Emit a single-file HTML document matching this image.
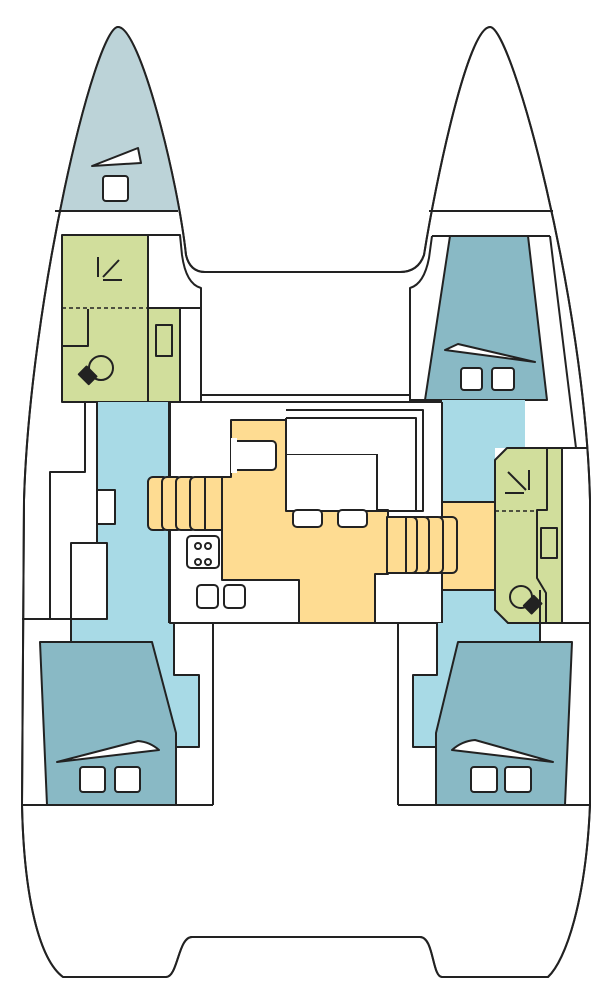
<!DOCTYPE html>
<html><head><meta charset="utf-8"><style>html,body{margin:0;padding:0;background:#fff}svg{display:block}</style></head>
<body>
<svg width="614" height="1004" viewBox="0 0 614 1004" xmlns="http://www.w3.org/2000/svg">
<defs>
<path id="hull" d="M118 27 C95 27 30 300 24 500 L22 805 C24 900 40 960 63 977 L166 977 C178 977 178 937 192 937 L420 937 C434 937 432 977 442 977 L548 977 C566 960 586 900 590 805 L590 500 C585 300 512 27 490 27 C468 27 436 180 424 255 Q418 272 400 272 L205 272 Q190 272 186 255 C178 180 140 27 118 27 Z"/>
<clipPath id="hc"><use href="#hull"/></clipPath>
</defs>
<g stroke="#222" stroke-width="2" stroke-linejoin="round" fill="none">
<use href="#hull" fill="#fff"/>
<rect x="0" y="0" width="300" height="211" fill="#bcd3d8" stroke="none" clip-path="url(#hc)"/>
<use href="#hull" fill="none"/>
<line x1="55" y1="211" x2="178" y2="211"/>
<line x1="429" y1="211" x2="553" y2="211"/>
<path d="M92 166 L138 148 L141 163 Z" fill="#fff"/>
<rect x="103" y="176" width="25" height="25" rx="3" fill="#fff"/>

<!-- left forward cabin -->
<rect x="62" y="235" width="86" height="167" fill="#d1de9c"/>
<rect x="148" y="308" width="32" height="94" fill="#d1de9c"/>
<path d="M62 235 L180 235 L182 255 Q186 284 201 288 L201 402"/>
<line x1="148" y1="235" x2="148" y2="402"/>
<line x1="148" y1="308" x2="201" y2="308"/>
<line x1="180" y1="308" x2="180" y2="402"/>
<line x1="62" y1="308" x2="148" y2="308" stroke-dasharray="4,3" stroke-width="1.5"/>
<rect x="156" y="325" width="16" height="31" fill="none"/>
<path d="M62 346 L88 346 L88 309"/>
<circle cx="101" cy="368" r="12" fill="none"/>
<rect x="82" y="368" width="11" height="14" fill="#222" transform="rotate(-45 88 375)"/>
<line x1="98" y1="257" x2="98" y2="277"/>
<line x1="103" y1="277" x2="119" y2="260"/>
<line x1="103" y1="280" x2="122" y2="280"/>
<line x1="62" y1="402" x2="201" y2="402"/>

<!-- right forward cabin -->
<path d="M432 236 L550 236"/>
<path d="M550 236 L576 448"/>
<path d="M432 236 L429 258 Q424 284 410 288 L410 402"/>
<path d="M450 236 L528 236 L547 400 L425 400 Z" fill="#89b9c5"/>
<line x1="410" y1="400" x2="547" y2="400"/>
<path d="M445 350 L458 344 L535 362 Z" fill="#fff"/>
<rect x="461" y="368" width="21" height="22" rx="3" fill="#fff"/>
<rect x="492" y="368" width="22" height="22" rx="3" fill="#fff"/>

<line x1="201" y1="395" x2="410" y2="395"/>

<!-- left hull corridor -->
<path d="M97 402 L169 402 L169 623 L174 623 L174 675 L199 675 L199 747 L176 747 L176 733 L152 642 L71 642 L71 619 L97 619 Z" fill="#a8dae6" stroke="none"/>
<line x1="97" y1="402" x2="97" y2="543"/>
<line x1="169" y1="402" x2="169" y2="623"/>
<rect x="97" y="490" width="18" height="34" fill="#fff"/>
<rect x="71" y="543" width="36" height="76" fill="#fff"/>
<path d="M85 402 L85 472 L50 472 L50 619"/>
<line x1="22" y1="619" x2="71" y2="619"/>
<line x1="71" y1="619" x2="71" y2="642"/>
<path d="M174 623 L174 675 L199 675 L199 747 L176 747"/>
<line x1="213" y1="623" x2="213" y2="805"/>
<path d="M40 642 L152 642 L176 733 L176 805 L47 805 Z" fill="#89b9c5"/>
<line x1="22" y1="805" x2="213" y2="805"/>
<path d="M57 762 L138 741 Q150 742 159 750 Z" fill="#fff"/>
<rect x="80" y="767" width="25" height="25" rx="3" fill="#fff"/>
<rect x="115" y="767" width="25" height="25" rx="3" fill="#fff"/>

<!-- saloon -->
<rect x="170" y="402" width="272" height="221" fill="#fff"/>
<path d="M231 420 L287 420 L287 510 L388 510 L388 574 L375 574 L375 623 L299 623 L299 580 L222 580 L222 477 L231 477 Z" fill="#fedc92"/>
<rect x="231" y="441" width="45" height="29" rx="4" fill="#fff"/>
<rect x="231" y="438" width="6" height="35" fill="#fff" stroke="none"/>
<path d="M286 410 L423 410 L423 511 L377 511"/>
<rect x="286" y="454" width="91" height="57" fill="#fff"/>
<rect x="286" y="418" width="130" height="36" fill="#fff" stroke="none"/>
<path d="M286 418 L416 418 L416 511 L377 511"/>
<line x1="286" y1="418" x2="286" y2="454"/>
<rect x="293" y="510" width="29" height="17" rx="4" fill="#fff"/>
<rect x="338" y="510" width="29" height="17" rx="4" fill="#fff"/>
<g fill="#fedc92">
<rect x="148" y="477" width="20" height="53" rx="5"/>
<rect x="162" y="477" width="20" height="53" rx="5"/>
<rect x="176" y="477" width="20" height="53" rx="5"/>
<rect x="190" y="477" width="20" height="53" rx="5"/>
<rect x="205" y="477" width="17" height="53"/>
</g>
<rect x="187" y="536" width="32" height="32" rx="4" fill="#fff"/>
<circle cx="198" cy="546" r="3"/><circle cx="208" cy="546" r="3"/>
<circle cx="198" cy="562" r="3"/><circle cx="208" cy="562" r="3"/>
<rect x="197" y="585" width="21" height="23" rx="4" fill="#fff"/>
<rect x="224" y="585" width="21" height="23" rx="4" fill="#fff"/>
<line x1="170" y1="623" x2="442" y2="623"/>

<!-- right hull -->
<rect x="442" y="400" width="83" height="48" fill="#a8dae6" stroke="none"/>
<rect x="442" y="448" width="53" height="54" fill="#a8dae6" stroke="none"/>
<path d="M442 590 L540 590 L540 642 L458 642 L436 733 L436 747 L413 747 L413 675 L437 675 L437 623 L442 623 Z" fill="#a8dae6" stroke="none"/>
<rect x="442" y="502" width="54" height="88" fill="#fedc92" stroke="none"/>
<line x1="442" y1="402" x2="442" y2="623"/>
<line x1="442" y1="502" x2="495" y2="502"/>
<line x1="442" y1="590" x2="495" y2="590"/>
<g fill="#fedc92">
<rect x="436" y="517" width="21" height="56" rx="5"/>
<rect x="422" y="517" width="21" height="56" rx="5"/>
<rect x="408" y="517" width="21" height="56" rx="5"/>
<rect x="396" y="517" width="21" height="56" rx="5"/>
<rect x="387" y="517" width="19" height="56"/>
</g>
<path d="M495 460 L507 448 L562 448 L562 623 L508 623 L495 610 Z" fill="#d1de9c"/>
<path d="M547 448 L547 510 L537 510 L537 578 L546 593 L546 623"/>
<line x1="495" y1="511" x2="537" y2="511" stroke-dasharray="4,3" stroke-width="1.5"/>
<rect x="541" y="528" width="16" height="30"/>
<circle cx="521" cy="597" r="11"/>
<rect x="527" y="598" width="11" height="14" fill="#222" transform="rotate(45 533 605)"/>
<line x1="529" y1="470" x2="529" y2="490"/>
<line x1="508" y1="472" x2="526" y2="490"/>
<line x1="505" y1="493" x2="524" y2="493"/>
<line x1="562" y1="448" x2="588" y2="448"/>
<line x1="540" y1="623" x2="590" y2="623"/>
<line x1="540" y1="590" x2="540" y2="642"/>
<line x1="398" y1="623" x2="437" y2="623"/>
<line x1="398" y1="623" x2="398" y2="805"/>
<path d="M437 623 L437 675 L413 675 L413 747 L436 747"/>
<path d="M458 642 L572 642 L565 805 L436 805 L436 733 Z" fill="#89b9c5"/>
<line x1="398" y1="805" x2="590" y2="805"/>
<path d="M452 750 Q462 741 475 740 L553 762 Z" fill="#fff"/>
<rect x="471" y="767" width="26" height="25" rx="3" fill="#fff"/>
<rect x="505" y="767" width="26" height="25" rx="3" fill="#fff"/>
</g>
</svg>
</body></html>
